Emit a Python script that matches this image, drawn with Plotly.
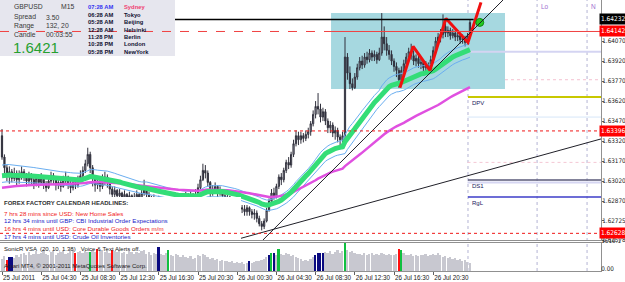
import plotly.graph_objects as go

W, H = 625, 282

# ---------------- data ----------------
tick_bars = [0, 16, 32, 48, 64, 80, 96, 112, 128, 144, 160, 176]
tick_labels = ["25 Jul 2011", "25 Jul 04:30", "25 Jul 08:30", "25 Jul 12:30",
               "25 Jul 16:30", "25 Jul 20:30", "26 Jul 00:30", "26 Jul 04:30",
               "26 Jul 08:30", "26 Jul 12:30", "26 Jul 16:30", "26 Jul 20:30"]

first_open = 1.6336
close_px = [
    1.6320, 1.6312, 1.6306, 1.6309, 1.6304, 1.6308, 1.6303, 1.6306,
    1.6309, 1.6305, 1.6302, 1.6306, 1.6303, 1.6300, 1.6304, 1.6301,
    1.6304, 1.6300, 1.6297, 1.6302, 1.6306, 1.6303, 1.6299, 1.6301,
    1.6298, 1.6302, 1.6305, 1.6300, 1.6297, 1.6301, 1.6299, 1.6303,
    1.6306, 1.6310, 1.6315, 1.6322, 1.6312, 1.6304, 1.6299, 1.6302,
    1.6298, 1.6301, 1.6305, 1.6301, 1.6296, 1.6292, 1.6295, 1.6291,
    1.6293, 1.6290, 1.6292, 1.6289, 1.6291, 1.6288, 1.6290, 1.6292,
    1.6289, 1.6293, 1.6298, 1.6292, 1.6289, 1.6287, 1.6289, 1.6286,
    1.6288, 1.6287, 1.6285, 1.6288, 1.6286, 1.6287, 1.6285, 1.6287,
    1.6286, 1.6288, 1.6287, 1.6290, 1.6288, 1.6291, 1.6289, 1.6292,
    1.6297, 1.6303, 1.6310, 1.6308, 1.6301, 1.6293, 1.6296, 1.6298,
    1.6293, 1.6295, 1.6291, 1.6289, 1.6290, 1.6288, 1.6286, 1.6285,
    1.6283, 1.6282, 1.6281, 1.6279, 1.6282, 1.6279, 1.6277, 1.6278,
    1.6274, 1.6270, 1.6268, 1.6272, 1.6280, 1.6287, 1.6293, 1.6290,
    1.6298, 1.6305, 1.6303, 1.6310, 1.6316, 1.6314, 1.6322, 1.6330,
    1.6336, 1.6333, 1.6336, 1.6334, 1.6337, 1.6339, 1.6345, 1.6352,
    1.6358, 1.6356, 1.6350, 1.6354, 1.6347, 1.6342, 1.6344, 1.6338,
    1.6340, 1.6335, 1.6333, 1.6336, 1.6395, 1.6383, 1.6375, 1.6372,
    1.6380, 1.6387, 1.6392, 1.6389, 1.6395, 1.6393, 1.6398, 1.6395,
    1.6397, 1.6393, 1.6398, 1.6410, 1.6405, 1.6400, 1.6397, 1.6392,
    1.6388, 1.6385, 1.6378, 1.6385, 1.6390, 1.6395, 1.6399, 1.6396,
    1.6392, 1.6394, 1.6390, 1.6391, 1.6387, 1.6389, 1.6386, 1.6393,
    1.6400, 1.6407, 1.6410, 1.6412, 1.6418, 1.6413, 1.6415, 1.6411,
    1.6413, 1.6410, 1.6411, 1.6408, 1.6409, 1.6406, 1.6411, 1.6421,
]
high_px = [
    1.6341, 1.6322, 1.6314, 1.6313, 1.6311, 1.6312, 1.6310, 1.6310,
    1.6313, 1.6311, 1.6308, 1.6309, 1.6308, 1.6305, 1.6307, 1.6306,
    1.6308, 1.6306, 1.6302, 1.6305, 1.6309, 1.6308, 1.6305, 1.6304,
    1.6303, 1.6306, 1.6309, 1.6306, 1.6302, 1.6304, 1.6304, 1.6306,
    1.6310, 1.6313, 1.6318, 1.6327, 1.6324, 1.6314, 1.6306, 1.6305,
    1.6304, 1.6307, 1.6309, 1.6307, 1.6302, 1.6298, 1.6298, 1.6296,
    1.6296, 1.6294, 1.6295, 1.6293, 1.6294, 1.6292, 1.6293, 1.6295,
    1.6293, 1.6296, 1.6303, 1.6299, 1.6294, 1.6291, 1.6292, 1.6290,
    1.6291, 1.6290, 1.6289, 1.6290, 1.6289, 1.6290, 1.6288, 1.6289,
    1.6288, 1.6290, 1.6289, 1.6294, 1.6293, 1.6295, 1.6293, 1.6296,
    1.6300, 1.6306, 1.6315, 1.6314, 1.6310, 1.6302, 1.6299, 1.6301,
    1.6299, 1.6298, 1.6296, 1.6293, 1.6292, 1.6291, 1.6289, 1.6288,
    1.6287, 1.6285, 1.6284, 1.6284, 1.6284, 1.6283, 1.6281, 1.6281,
    1.6280, 1.6276, 1.6272, 1.6274, 1.6282, 1.6289, 1.6296, 1.6297,
    1.6300, 1.6307, 1.6308, 1.6312, 1.6318, 1.6320, 1.6324, 1.6333,
    1.6340, 1.6339, 1.6339, 1.6338, 1.6340, 1.6342, 1.6347, 1.6355,
    1.6362, 1.6368, 1.6360, 1.6357, 1.6356, 1.6349, 1.6347, 1.6346,
    1.6343, 1.6342, 1.6337, 1.6339, 1.6410, 1.6398, 1.6388, 1.6379,
    1.6383, 1.6390, 1.6395, 1.6396, 1.6398, 1.6399, 1.6401, 1.6400,
    1.6400, 1.6399, 1.6402, 1.6428, 1.6418, 1.6410, 1.6404, 1.6400,
    1.6394, 1.6391, 1.6387, 1.6388, 1.6393, 1.6398, 1.6402, 1.6405,
    1.6400, 1.6397, 1.6396, 1.6394, 1.6393, 1.6392, 1.6391, 1.6396,
    1.6403, 1.6410, 1.6413, 1.6416, 1.6427, 1.6422, 1.6418, 1.6417,
    1.6416, 1.6415, 1.6414, 1.6413, 1.6412, 1.6411, 1.6413, 1.6423,
]
low_px = [
    1.6318, 1.6308, 1.6302, 1.6300, 1.6301, 1.6302, 1.6299, 1.6300,
    1.6303, 1.6302, 1.6298, 1.6300, 1.6299, 1.6296, 1.6298, 1.6297,
    1.6299, 1.6296, 1.6294, 1.6296, 1.6300, 1.6300, 1.6295, 1.6296,
    1.6294, 1.6297, 1.6300, 1.6296, 1.6293, 1.6295, 1.6296, 1.6297,
    1.6301, 1.6304, 1.6308, 1.6313, 1.6308, 1.6298, 1.6294, 1.6296,
    1.6294, 1.6296, 1.6299, 1.6297, 1.6292, 1.6288, 1.6290, 1.6288,
    1.6289, 1.6287, 1.6288, 1.6286, 1.6288, 1.6285, 1.6287, 1.6288,
    1.6287, 1.6288, 1.6291, 1.6289, 1.6286, 1.6284, 1.6285, 1.6284,
    1.6285, 1.6285, 1.6283, 1.6284, 1.6284, 1.6285, 1.6283, 1.6284,
    1.6284, 1.6285, 1.6285, 1.6286, 1.6286, 1.6287, 1.6287, 1.6288,
    1.6291, 1.6296, 1.6302, 1.6304, 1.6298, 1.6290, 1.6291, 1.6293,
    1.6290, 1.6291, 1.6288, 1.6286, 1.6287, 1.6285, 1.6283, 1.6282,
    1.6280, 1.6279, 1.6278, 1.6276, 1.6276, 1.6276, 1.6274, 1.6273,
    1.6271, 1.6268, 1.6265, 1.6266, 1.6271, 1.6279, 1.6285, 1.6288,
    1.6289, 1.6296, 1.6299, 1.6301, 1.6308, 1.6311, 1.6312, 1.6320,
    1.6328, 1.6329, 1.6330, 1.6331, 1.6332, 1.6334, 1.6336, 1.6343,
    1.6349, 1.6352, 1.6346, 1.6347, 1.6344, 1.6338, 1.6338, 1.6335,
    1.6333, 1.6331, 1.6328, 1.6326, 1.6332, 1.6378, 1.6371, 1.6370,
    1.6371, 1.6378, 1.6385, 1.6386, 1.6387, 1.6390, 1.6391, 1.6392,
    1.6392, 1.6390, 1.6392, 1.6396, 1.6400, 1.6396, 1.6393, 1.6389,
    1.6384, 1.6380, 1.6372, 1.6376, 1.6382, 1.6387, 1.6392, 1.6393,
    1.6389, 1.6388, 1.6387, 1.6386, 1.6384, 1.6383, 1.6383, 1.6385,
    1.6391, 1.6398, 1.6404, 1.6406, 1.6409, 1.6410, 1.6410, 1.6408,
    1.6409, 1.6407, 1.6407, 1.6405, 1.6405, 1.6403, 1.6404, 1.6409,
]
volume = [
    700, 860, 640, 830, 830, 760, 900, 820,
    980, 1050, 900, 1100, 950, 1000, 1150, 980,
    1050, 1200, 1000, 900, 1080, 1150, 950, 1020,
    1100, 1180, 1000, 1050, 1150, 1200, 1040, 1100,
    1150, 1050, 1180, 1100, 1120, 1200, 1080, 1270,
    1150, 1200, 1100, 1180, 1050, 1210, 1150, 1100,
    1200, 1050, 1120, 1000, 1150, 1080, 980, 1100,
    1050, 1150, 1200, 1000, 1080, 950, 1050, 980,
    1400, 1000, 900, 1050, 1210, 950, 880, 1000,
    900, 820, 950, 800, 760, 850, 700, 780,
    900, 850, 1000, 950, 800, 700, 750, 650,
    700, 600, 650, 550, 600, 520, 580, 480,
    520, 450, 500, 420, 480, 600, 460, 500,
    550, 600, 650, 700, 800, 920, 1060, 1040,
    950, 1270, 1000, 900, 1050, 980, 850, 900,
    800, 750, 700, 600, 650, 580, 720, 800,
    920, 1040, 1040, 1040, 1100, 1050, 1150, 1000,
    1100, 1200, 1050, 1150, 1619.1, 1200, 1100, 1150,
    1050, 980, 1000, 950, 1020, 900, 980, 1040,
    950, 1000, 920, 1050, 980, 940, 1000, 900,
    950, 1000, 1270, 1210, 1050, 900, 950, 1000,
    880, 920, 850, 950, 900, 980, 860, 900,
    1000, 950, 1040, 900, 820, 850, 760, 800,
    700, 750, 650, 700, 600, 620, 520, 460,
]
vsa_red_bars = [2, 30, 39, 45, 162]
vsa_green_bars = [36, 68, 110, 113, 140, 163]
vsa_blue_bars = [3, 4, 64, 101, 109, 111, 128, 129, 130, 131]

price_ticks = [1.64070, 1.63920, 1.63770, 1.63620, 1.63470, 1.63320,
               1.63170, 1.63020, 1.62870, 1.62725, 1.62578]
price_top, price_bottom = 1.64378, 1.62578
vol_max = 1619.1
vol_ticks = [vol_max, 0]
vol_tick_text = ["1619.1", "0.00"]

dragon_seed = {"high": 1.6314, "close": 1.6306, "low": 1.6301}
trend_seed = 1.6297

zigzag_bars = [162.4, 167.8, 174.7, 181.2, 190.2, 195.5]
zigzag_prices = [1.6372, 1.6403, 1.6385, 1.6424, 1.6406, 1.6436]
signal_bar, signal_price = 195.0, 1.6421

trend_long = [(95.0, 1.62578), (244.5, 1.63336)]
trend_steep = [(106.5, 1.62578), (204.5, 1.64378)]

box_bars = (134.3, 205.3)
box_prices = (1.64280, 1.63710)

high_line = 1.64232
red_solid_level = 1.64142
red_dot_levels = [1.63396, 1.62628]
pivot_levels = [("DPV", 1.63650, "#C8C800"), ("DS1", 1.63028, "#5A5A78"), ("RgL", 1.62900, "#3C3CC8")]
faint_levels = [(1.63990, "#D4D4F2", 191, 2), (1.63500, "#D6E6F8", 190, 1),
                (1.63010, "#D6D6F2", 190, 2)]
session_bars = [190.2, 218.4, 238.8]
session_names = [("Lo", 218.4), ("N", 238.8)]

info_left = [("GBPUSD", "M15"), ("Spread", "3.50"), ("Range", "132, 20"), ("Candle", "00:03:55")]
last_price_text = "1.6421"
clock_times = ["07:28 AM", "06:28 AM", "05:28 AM", "12:28 AM", "11:28 PM", "10:28 PM", "05:28 PM"]
clock_cities = ["Sydney", "Tokyo", "Beijing", "Helsinki", "Berlin", "London", "NewYork"]

headline_title = "FOREX FACTORY CALENDAR HEADLINES:"
headlines = [("7 hrs 28 mins since USD: New Home Sales", "#F02020"),
             ("12 hrs 34 mins until GBP: CBI Industrial Order Expectations", "#2020C8"),
             ("16 hrs 4 mins until USD: Core Durable Goods Orders m/m", "#F02020"),
             ("17 hrs 4 mins until USD: Crude Oil Inventories", "#2020C8")]
vsa_title = "SonicR VSA  (20, 10, 1.38)   Voice & Text Alerts off."
copyright_text = "Alpari MT4, \u00a9 2001-2011 MetaQuotes Software Corp."

# ---------------- derived ----------------
n = len(close_px)
bars = list(range(n))
open_px = [first_open] + close_px[:-1]


def ema(values, period, seed):
    k = 2.0 / (period + 1)
    out = [seed]
    for v in values[1:]:
        out.append(out[-1] + k * (v - out[-1]))
    return out


dragon_high = ema(high_px, 34, dragon_seed["high"])
dragon_close = ema(close_px, 34, dragon_seed["close"])
dragon_low = ema(low_px, 34, dragon_seed["low"])
trend89 = ema(close_px, 89, trend_seed)

vol_colors = []
for i in range(n):
    if i in vsa_red_bars:
        vol_colors.append("#FF1010")
    elif i in vsa_green_bars:
        vol_colors.append("#10C040")
    elif i in vsa_blue_bars:
        vol_colors.append("#0A0A80")
    else:
        vol_colors.append("#C8C8D0")

# layout geometry (pixels)
PLOT_R = 601
MAIN_B = 240
VOL_T, VOL_B = 243, 271
x_lo = -2 / 2.45
x_hi = (PLOT_R - 2) / 2.45


def XP(px):
    return px / W


def YP(py):
    return 1 - py / H


FONT = "Liberation Sans, Arial, sans-serif"
NARROW = "Liberation Sans Narrow, DejaVu Sans Condensed, Arial Narrow, sans-serif"

fig = go.Figure()

fig.add_trace(go.Candlestick(
    x=bars, open=open_px, high=high_px, low=low_px, close=close_px,
    increasing=dict(line=dict(color="#30303C", width=1), fillcolor="#A8A8B4"),
    decreasing=dict(line=dict(color="#30303C", width=1), fillcolor="#30303C"),
    whiskerwidth=0, showlegend=False, hoverinfo="skip", xaxis="x", yaxis="y"))

for series, col, wdt in [(dragon_high, "#6AAEF0", 1), (dragon_low, "#6AAEF0", 1),
                         (trend89, "#E050E0", 2.5), (dragon_close, "#33DD77", 5)]:
    fig.add_trace(go.Scatter(x=bars, y=series, mode="lines",
                             line=dict(color=col, width=wdt), hoverinfo="skip",
                             showlegend=False, xaxis="x", yaxis="y"))

fig.add_trace(go.Scatter(x=zigzag_bars, y=zigzag_prices, mode="lines",
                         line=dict(color="#F01010", width=3), hoverinfo="skip",
                         showlegend=False, xaxis="x", yaxis="y"))
fig.add_trace(go.Scatter(x=[signal_bar], y=[signal_price], mode="markers",
                         marker=dict(color="#22CC22", size=8, line=dict(color="#118811", width=1)),
                         hoverinfo="skip", showlegend=False, xaxis="x", yaxis="y"))

fig.add_trace(go.Bar(x=bars, y=volume, marker=dict(color=vol_colors, line=dict(width=0)),
                     width=0.7, hoverinfo="skip", showlegend=False, xaxis="x2", yaxis="y2"))

shapes = []
shapes.append(dict(type="rect", xref="x", yref="y", x0=box_bars[0], x1=box_bars[1],
                   y0=box_prices[1], y1=box_prices[0], fillcolor="#A6D8E0",
                   line=dict(width=0), layer="below"))
for b in session_bars:
    shapes.append(dict(type="line", xref="x", yref="paper", x0=b, x1=b,
                       y0=YP(VOL_B), y1=1, line=dict(color="#B4B4D4", width=1, dash="dot"),
                       layer="below"))
for lv, col, start, wd in faint_levels:
    shapes.append(dict(type="line", xref="x", yref="y", x0=start, x1=x_hi, y0=lv, y1=lv,
                       line=dict(color=col, width=wd), layer="below"))
shapes.append(dict(type="line", xref="x", yref="y", x0=205.3, x1=x_hi, y0=1.63780, y1=1.63780,
                   line=dict(color="#F4C0D0", width=1, dash="dot"), layer="below"))
shapes.append(dict(type="line", xref="x", yref="y", x0=190, x1=x_hi, y0=1.63160, y1=1.63160,
                   line=dict(color="#F4C8D4", width=1, dash="dot"), layer="below"))
for name, lv, col in pivot_levels:
    shapes.append(dict(type="line", xref="x", yref="y", x0=190.2, x1=x_hi, y0=lv, y1=lv,
                       line=dict(color=col, width=2 if name == "DPV" else 1.5)))
for (b0, p0), (b1, p1) in [trend_long, trend_steep]:
    shapes.append(dict(type="line", xref="x", yref="y", x0=b0, y0=p0, x1=b1, y1=p1,
                       line=dict(color="#202028", width=1)))
shapes.append(dict(type="line", xref="x", yref="y", x0=x_lo, x1=192.5, y0=high_line, y1=high_line,
                   line=dict(color="#000000", width=1.5)))
shapes.append(dict(type="rect", xref="paper", yref="paper", x0=0, x1=XP(175), y0=YP(56), y1=1,
                   fillcolor="#E6E6EE", line=dict(width=0)))
shapes.append(dict(type="line", xref="x", yref="y", x0=x_lo, x1=134.3, y0=red_solid_level,
                   y1=red_solid_level, line=dict(color="#F04040", width=1, dash="dash")))
shapes.append(dict(type="line", xref="x", yref="y", x0=134.3, x1=x_hi, y0=red_solid_level,
                   y1=red_solid_level, line=dict(color="#F04040", width=1)))
shapes.append(dict(type="rect", xref="paper", yref="paper", x0=0, x1=XP(241), y0=YP(MAIN_B),
                   y1=YP(197), fillcolor="#FFFFFF", line=dict(width=0)))
for lv in red_dot_levels:
    shapes.append(dict(type="line", xref="x", yref="y", x0=x_lo, x1=x_hi, y0=lv, y1=lv,
                       line=dict(color="#F01818", width=1, dash="dot")))

ann = []


def text(t, xpx, ypx, size, color, bold=False, xanchor="left", family=FONT):
    ann.append(dict(text=("<b>%s</b>" % t) if bold else t, x=XP(xpx), y=YP(ypx),
                    xref="paper", yref="paper", xanchor=xanchor, yanchor="middle",
                    showarrow=False, borderpad=0,
                    font=dict(family=family, size=size, color=color)))


rows_y = [7, 17.3, 25.8, 34.4]
for (a, b), yy in zip(info_left, rows_y):
    text(a, 13, yy, 6.8, "#383838")
    text(b, 45 if a != "GBPUSD" else 60, yy, 6.8, "#383838")
text(last_price_text, 12, 47.5, 15, "#26A030")

clock_y = [7, 14.8, 22.3, 29.6, 37, 44.4, 51.8]
for i, (t, c) in enumerate(zip(clock_times, clock_cities)):
    text(t, 87, clock_y[i], 5.8, "#3434F0" if i == 0 else "#101030", bold=True)
    text(c, 123, clock_y[i], 5.8, "#F04070" if i == 0 else "#101030", bold=True)

text(headline_title, 3, 203, 6, "#303030", bold=True)
for k, (t, c) in enumerate(headlines):
    text(t, 3, 213 + 7.7 * k, 6.2, c)

text(vsa_title, 3, 249, 6, "#202020")
text(copyright_text, 3, 266, 6, "#202020")

for name, lv, col in pivot_levels:
    ann.append(dict(text=name, x=191, y=lv, xref="x", yref="y", xanchor="left", yanchor="top",
                    yshift=-1, showarrow=False, font=dict(family=FONT, size=6, color="#202060")))
for name, b in session_names:
    ann.append(dict(text=name, x=b, y=YP(6), xref="x", yref="paper", xanchor="left",
                    yanchor="middle", xshift=2, showarrow=False,
                    font=dict(family=FONT, size=6.5, color="#A070D0")))

for lv, bg in [(high_line, "#000000"), (red_solid_level, "#FF0000")] + [(v, "#FF0000") for v in red_dot_levels]:
    ann.append(dict(text="%.5f" % lv, x=XP(599), y=lv, xref="paper", yref="y", xanchor="left",
                    yanchor="middle", showarrow=False, bgcolor=bg, borderpad=1,
                    font=dict(family=NARROW, size=6.5, color="#FFFFFF")))

fig.update_layout(
    width=W, height=H, margin=dict(l=0, r=0, t=0, b=0, autoexpand=False),
    paper_bgcolor="#FFFFFF", plot_bgcolor="#FFFFFF",
    showlegend=False, bargap=0, shapes=shapes, annotations=ann,
    font=dict(family=FONT, size=6, color="#202020"),
    xaxis=dict(domain=[0, XP(PLOT_R)], range=[x_lo, x_hi], anchor="y", automargin=False,
               showgrid=False, zeroline=False, showticklabels=False, ticks="",
               showline=True, linecolor="#909090", linewidth=1,
               rangeslider=dict(visible=False)),
    yaxis=dict(domain=[YP(MAIN_B), 1], range=[price_bottom, price_top], anchor="x",
               automargin=False, side="right", showgrid=False, zeroline=False, showline=True,
               linecolor="#909090", linewidth=1, ticks="outside", ticklen=2,
               tickcolor="#606060", tickvals=price_ticks, ticklabelstandoff=-3,
               ticktext=["%.5f" % v for v in price_ticks],
               tickfont=dict(family=NARROW, size=6.3, color="#202020")),
    xaxis2=dict(domain=[0, XP(PLOT_R)], range=[x_lo, x_hi], anchor="y2", matches="x",
                automargin=False, showgrid=False, zeroline=False, showline=True, mirror=True,
                linecolor="#909090", linewidth=1, ticks="outside", ticklen=3,
                tickcolor="#606060", tickvals=tick_bars, ticktext=tick_labels,
                tickangle=0, ticklabelposition="outside right",
                tickfont=dict(family=FONT, size=6.3, color="#202020")),
    yaxis2=dict(domain=[YP(VOL_B), YP(VOL_T)], range=[0, vol_max], anchor="x2",
                automargin=False, side="right", showgrid=False, zeroline=False, showline=True,
                linecolor="#909090", linewidth=1, ticks="", tickvals=vol_ticks,
                ticktext=vol_tick_text, ticklabelstandoff=-2, ticklabelshift=-2,
                tickfont=dict(family=NARROW, size=6.3, color="#202020")),
)

fig.write_html("out.html")
